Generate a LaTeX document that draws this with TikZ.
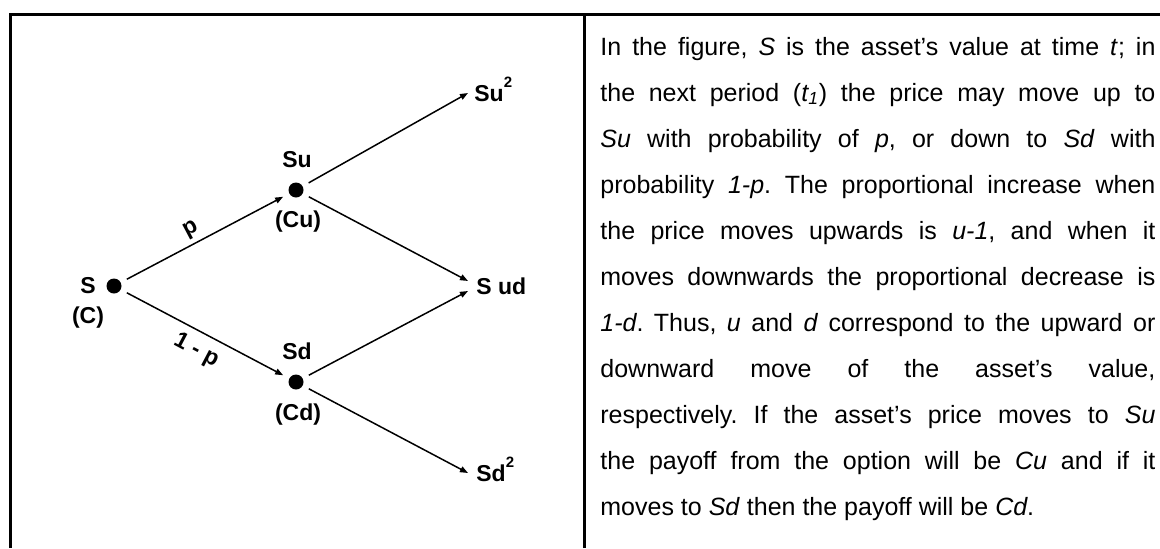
\documentclass[tikz,border=0pt]{standalone}
\usepackage{fontspec}
\setmainfont{Liberation Sans}
\usetikzlibrary{arrows.meta}
\newcommand{\sqr}{\raisebox{7pt}{\fontsize{7.5}{8}\selectfont\bfseries 2}}

\begin{document}
\begin{tikzpicture}[x=0.5pt,y=0.5pt,
  dot/.style={circle,fill,inner sep=0pt,minimum size=7.5pt,outer sep=3.5pt},
  lab/.style={font=\fontsize{11.5}{13}\selectfont\bfseries,inner sep=0pt},
  leaf/.style={lab,anchor=base west},
  edge/.style={line width=0.75pt,-{Triangle[length=4pt,width=3pt]}},
  frame/.style={line width=1.5pt}]
  \useasboundingbox (0,0) rectangle (1160,548);
  % frame and divider
  \draw[frame] (10,0) -- (10,534) -- (1160,534);
  \draw[frame] (584,0) -- (584,534);
  % tree
  \node[dot] (S) at (114,262) {};
  \node[dot] (Su) at (296,358) {};
  \node[dot] (Sd) at (296,166) {};
  \node[lab] (tS) at (88,262) {S};
  \node[lab] (tC) at (88,230) {(C)};
  \node[lab] (tSu) at (297,388) {Su};
  \node[lab] (tCu) at (298,326) {(Cu)};
  \node[lab] (tSd) at (297,197) {Sd};
  \node[lab] (tCd) at (298,133) {(Cd)};
  \node[leaf] (uu) at (474,447) {Su\sqr};
  \node[leaf] (ud) at (476,254) {S ud};
  \node[leaf] (dd) at (476,67) {Sd\sqr};
  \draw[edge] (S) -- node[lab,sloped,above=2pt,pos=.45] (lp) {p} (Su);
  \draw[edge] (S) -- node[lab,sloped,below=4pt,pos=.5] (lq) {1 - p} (Sd);
  \draw[edge] (Su) -- ([shift={(-3pt,4pt)}]uu.base west);
  \draw[edge] (Su) -- ([shift={(-4pt,6.5pt)}]ud.base west);
  \draw[edge] (Sd) -- ([shift={(-4pt,1.5pt)}]ud.base west);
  \draw[edge] (Sd) -- ([shift={(-4pt,4pt)}]dd.base west);
  % explanation
  \node[anchor=base west,inner sep=0pt,text width=277.5pt,align=justify,
    font=\fontsize{12.5}{23}\selectfont] (txt) at (600,493)
    {\frenchspacing\hyphenpenalty=10000 \tolerance=9999
    In the figure, \textit{S} is the asset's value at time \textit{t}; in\linebreak
    the next period (\textit{t\textsubscript{1}}) the price may move up to\linebreak
    \textit{Su} with probability of \textit{p}, or down to \textit{Sd} with\linebreak
    probability \textit{1-p}. The proportional increase when\linebreak
    the price moves upwards is \textit{u-1}, and when it\linebreak
    moves downwards the proportional decrease is\linebreak
    \textit{1-d}. Thus, \textit{u} and \textit{d} correspond to the upward or\linebreak
    downward move of the asset's value,\linebreak
    respectively. If the asset's price moves to \textit{Su}\linebreak
    the payoff from the option will be \textit{Cu} and if it\linebreak
    moves to \textit{Sd} then the payoff will be \textit{Cd}.};
\end{tikzpicture}
\end{document}
